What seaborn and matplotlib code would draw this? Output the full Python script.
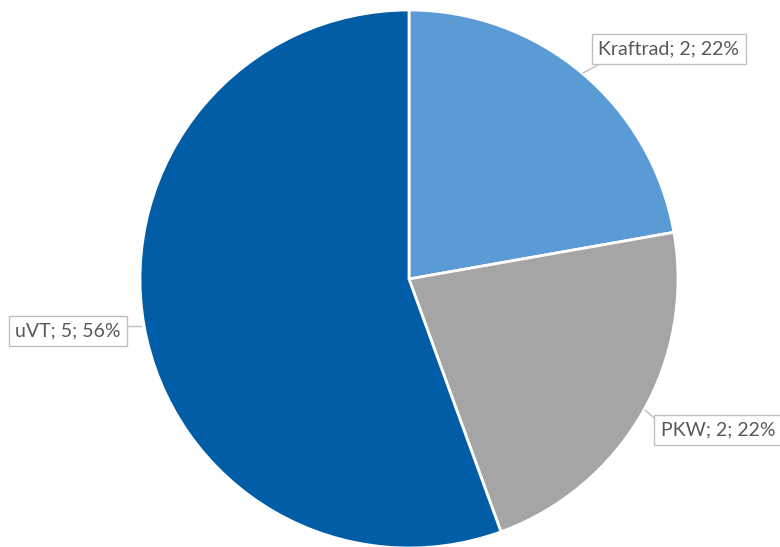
import matplotlib
matplotlib.use("Agg")
import matplotlib.pyplot as plt
import seaborn as sns

categories = ["Kraftrad", "PKW", "uVT"]
values = [2, 2, 5]
colors = ["#5B9BD5", "#A5A5A5", "#005DA6"]

sns.set_style("white")
plt.rcParams['font.family'] = ['Lato', 'DejaVu Sans']

W, H = 780, 547
fig = plt.figure(figsize=(W / 100, H / 100), dpi=100)
ax = fig.add_axes([0, 0, 1, 1])

cx, cy, r = 409, H - 279, 269
ax.pie(values, colors=colors, startangle=90, counterclock=False,
       center=(cx, cy), radius=r, frame=True,
       wedgeprops=dict(edgecolor='white', linewidth=2))
ax.set_xlim(0, W)
ax.set_ylim(0, H)
ax.set_aspect('equal')
ax.axis('off')

total = sum(values)
# label text positions (pixel coords, y from top) and pointer anchor points
label_pos = [(669, 49), (718, 430), (68, 331)]
pointer = [((583, 73), (598, 65)), ((645, 410), (658, 421)), ((141, 326), (126, 326))]
for cat, v, (tx, ty), (p0, p1) in zip(categories, values, label_pos, pointer):
    pct = round(100 * v / total)
    ax.plot([p0[0], p1[0]], [H - p0[1], H - p1[1]], color='#BFBFBF', lw=1, zorder=3)
    ax.text(tx, H - ty, f"{cat}; {v}; {pct}%", ha='center', va='center',
            fontsize=14, color='#595959', zorder=4,
            bbox=dict(boxstyle='square,pad=0.33', facecolor='white',
                      edgecolor='#BFBFBF', linewidth=1))

fig.savefig("out.png", dpi=100)
